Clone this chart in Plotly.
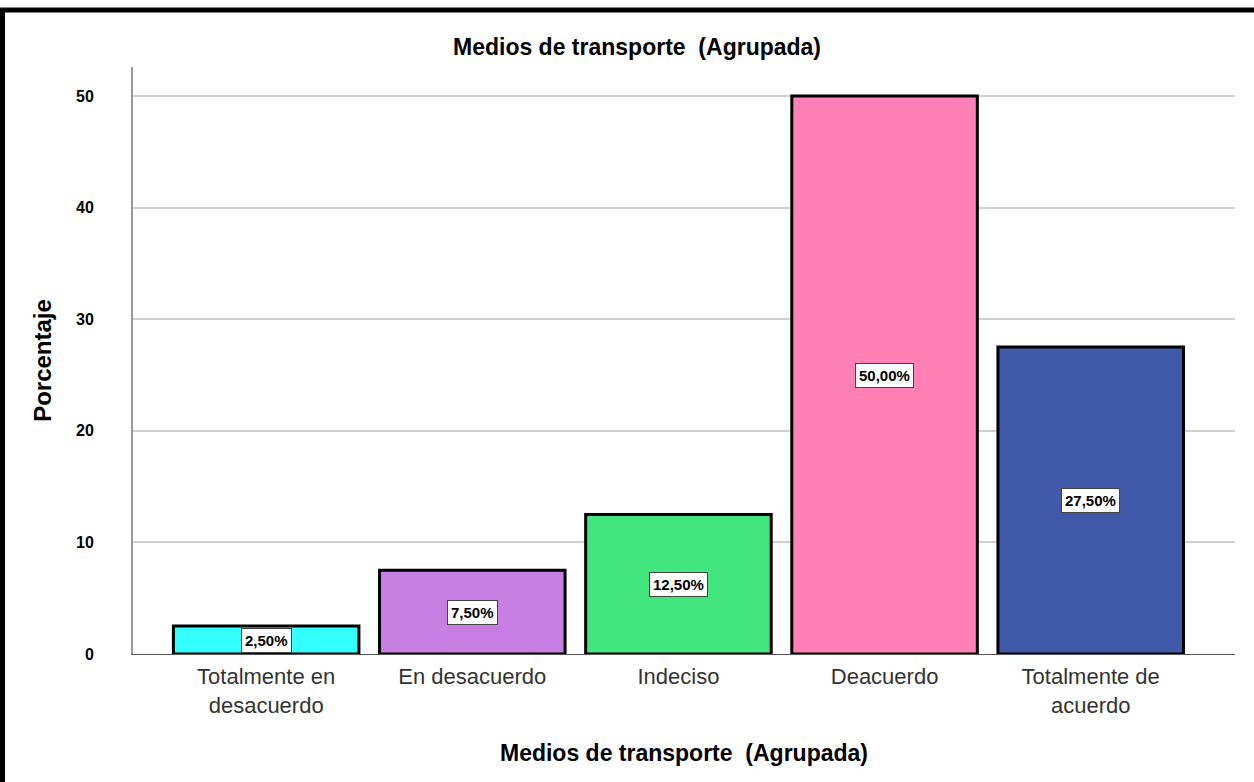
import plotly.graph_objects as go

categorias = ["Totalmente en<br>desacuerdo", "En desacuerdo", "Indeciso", "Deacuerdo", "Totalmente de<br>acuerdo"]
porcentajes = [2.5, 7.5, 12.5, 50.0, 27.5]
etiquetas = ["2,50%", "7,50%", "12,50%", "50,00%", "27,50%"]
colores = ["#33FFFF", "#C87FE3", "#42E57E", "#FF80B4", "#3F59A8"]

xs = list(range(len(categorias)))
fuente = "Liberation Sans, Arial"

fig = go.Figure()
fig.add_trace(go.Bar(
    x=xs, y=porcentajes, width=0.9,
    marker=dict(color=colores, line=dict(color="black", width=3)),
    hoverinfo="skip",
))

for x, y, t in zip(xs, porcentajes, etiquetas):
    fig.add_annotation(x=x, y=y / 2, text="<b>" + t + "</b>", showarrow=False,
                       font=dict(family=fuente, size=15, color="black"),
                       bgcolor="white", bordercolor="#444", borderwidth=1, borderpad=3)

# marco negro (arriba e izquierda)
fig.add_shape(type="line", xref="paper", yref="paper", x0=-0.125, x1=1.05, y0=1.097, y1=1.097,
              line=dict(color="black", width=5))
fig.add_shape(type="line", xref="paper", yref="paper", x0=-0.1184, x1=-0.1184, y0=1.1, y1=-0.25,
              line=dict(color="black", width=5))

fig.update_layout(
    width=1254, height=782,
    margin=dict(l=133, r=19, t=67, b=128),
    paper_bgcolor="white", plot_bgcolor="white",
    showlegend=False,
    title=dict(text="<b>Medios de transporte  (Agrupada)</b>", x=0.508, xanchor="center", y=0.94, yanchor="middle",
               font=dict(family=fuente, size=23, color="black")),
    font=dict(family=fuente),
)
fig.update_xaxes(
    range=[-0.646, 4.70], tickmode="array", tickvals=xs, ticktext=categorias,
    tickfont=dict(size=22, color="#333"), showgrid=False, showline=True, linecolor="#555", linewidth=1,
    ticks="", ticklabelstandoff=3,
    title=dict(text="<b>Medios de transporte  (Agrupada)</b>", standoff=27,
               font=dict(size=23, color="black")),
)
fig.update_yaxes(
    range=[0, 52.6], tickvals=[0, 10, 20, 30, 40, 50],
    tickfont=dict(size=16, color="black", weight="bold"),
    showgrid=True, gridcolor="#CFCFCF", gridwidth=2,
    showline=True, linecolor="#999", linewidth=2, zeroline=False,
    ticks="", ticklabelstandoff=34,
    title=dict(text="<b>Porcentaje</b>", standoff=18, font=dict(size=24, color="black")),
)

fig.write_html("out.html", config={"displayModeBar": False},
               post_script="document.body.style.margin='0';")
